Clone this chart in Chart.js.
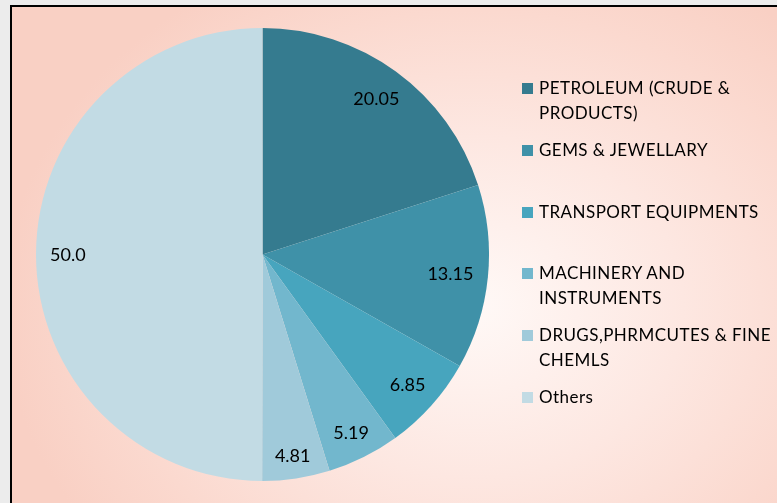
<!DOCTYPE html>
<html>
<head>
<meta charset="utf-8">
<script src="https://cdn.jsdelivr.net/npm/chart.js@4/dist/chart.umd.min.js"></script>
<style>
  html, body { margin:0; padding:0; width:777px; height:503px; overflow:hidden; background:#ECECEC; }
  #frame {
    position:absolute; left:10px; top:5px; width:820px; height:560px;
    border-left:2px solid #000; border-top:2px solid #000;
    background: radial-gradient(ellipse 470px 380px at 460px 300px, #FFF9F7 0%, #FDE7E1 45%, #FBD9CF 78%, #F9D0C4 100%);
  }
  #chartWrap { position:absolute; left:0; top:0; width:777px; height:503px; }
  #legend {
    position:absolute; left:522px; top:76px; width:255px;
    font-family: Lato, "Liberation Sans", sans-serif; font-size:17px; color:#000;
    letter-spacing:0.45px;
  }
  .item { position:relative; height:61.8px; }
  .sw { position:absolute; left:0; top:7px; width:11px; height:11px; }
  .txt { position:absolute; left:17px; top:0; line-height:24.5px; white-space:nowrap; }
</style>
</head>
<body>
<div id="frame"></div>
<div id="chartWrap"><canvas id="c" width="777" height="503"></canvas></div>
<div id="legend"></div>
<script>
const categories = [
  ["PETROLEUM (CRUDE &", "PRODUCTS)"],
  ["GEMS & JEWELLARY"],
  ["TRANSPORT EQUIPMENTS"],
  ["MACHINERY AND", "INSTRUMENTS"],
  ["DRUGS,PHRMCUTES & FINE", "CHEMLS"],
  ["Others"]
];
const values = [20.05, 13.15, 6.85, 5.19, 4.81, 50.0];
const colors = ["#357B8F", "#3F91A8", "#47A5BE", "#72B7CD", "#A0CADA", "#C2DBE4"];

function fmt(v) { return Number.isInteger(v) ? v.toFixed(1) : String(v); }

const labelPlugin = {
  id: 'sliceLabels',
  afterDatasetsDraw(chart) {
    const ctx = chart.ctx;
    const meta = chart.getDatasetMeta(0);
    ctx.save();
    ctx.font = '18px Lato, "Liberation Sans", sans-serif';
    ctx.fillStyle = '#000';
    ctx.textAlign = 'center';
    ctx.textBaseline = 'middle';
    meta.data.forEach((arc, i) => {
      const p = arc.getProps(['x','y','startAngle','endAngle','outerRadius'], true);
      const mid = (p.startAngle + p.endAngle) / 2;
      const text = fmt(values[i]);
      const hw = ctx.measureText(text).width / 2;
      const hh = 7;
      const c = Math.cos(mid), s = Math.sin(mid);
      const d = p.outerRadius - 14 - (hw * Math.abs(c) + hh * Math.abs(s));
      ctx.fillText(text, p.x + c * d, p.y + s * d + 1);
    });
    ctx.restore();
  }
};

new Chart(document.getElementById('c'), {
  type: 'pie',
  data: {
    labels: categories,
    datasets: [{ data: values, backgroundColor: colors, borderWidth: 0 }]
  },
  options: {
    responsive: false,
    animation: false,
    layout: { padding: { left: 36, top: 28, right: 288, bottom: 22 } },
    plugins: { legend: { display: false }, tooltip: { enabled: false } }
  },
  plugins: [labelPlugin]
});

const legend = document.getElementById('legend');
categories.forEach((lines, i) => {
  const item = document.createElement('div');
  item.className = 'item';
  const sw = document.createElement('div');
  sw.className = 'sw';
  sw.style.background = colors[i];
  const t = document.createElement('div');
  t.className = 'txt';
  t.innerHTML = lines.map(l => l.replace(/&/g, '&amp;')).join('<br>');
  item.appendChild(sw);
  item.appendChild(t);
  legend.appendChild(item);
});
</script>
</body>
</html>
